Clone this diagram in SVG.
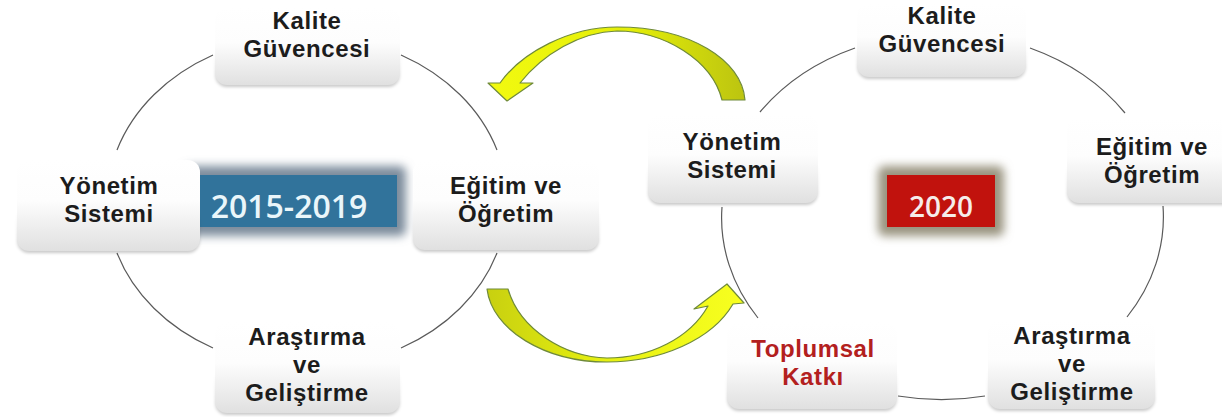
<svg xmlns="http://www.w3.org/2000/svg" width="1222" height="417" viewBox="0 0 1222 417">
<style>
.lbl{font-family:"Liberation Sans",Arial,sans-serif;font-weight:700;font-size:24px;letter-spacing:0.6px;fill:#1c1c1c;text-anchor:middle}
.red{fill:#b3201e}
.box{fill:url(#boxg)}
.shd{fill:url(#shg);filter:url(#sb)}
.arc{fill:none;stroke:#5a5a5a;stroke-width:1.2}
.yr{font-family:"Open Sans","Noto Sans","Liberation Sans",sans-serif;font-weight:600;text-anchor:middle}
.arrow{stroke:#6f8a3a;stroke-width:1.2;stroke-linejoin:round}
</style>
<defs>
<linearGradient id="boxg" x1="0" y1="0" x2="0" y2="1">
<stop offset="0" stop-color="#ffffff"/>
<stop offset="0.45" stop-color="#fdfdfd"/>
<stop offset="1" stop-color="#e0e0e0"/>
</linearGradient>
<linearGradient id="shg" x1="0" y1="0" x2="0" y2="1">
<stop offset="0" stop-color="#000" stop-opacity="0"/>
<stop offset="0.55" stop-color="#000" stop-opacity="0"/>
<stop offset="1" stop-color="#000" stop-opacity="0.22"/>
</linearGradient>
<filter id="sb" x="-10%" y="-10%" width="120%" height="130%">
<feGaussianBlur stdDeviation="1.6"/>
</filter>
<filter id="blur" x="-30%" y="-60%" width="160%" height="220%">
<feGaussianBlur stdDeviation="5"/>
</filter>
<linearGradient id="ytop" x1="0" y1="0" x2="1" y2="0">
<stop offset="0" stop-color="#f2fa10"/>
<stop offset="0.55" stop-color="#e4ee08"/>
<stop offset="1" stop-color="#bcc410"/>
</linearGradient>
<linearGradient id="ybot" x1="0" y1="0" x2="1" y2="0">
<stop offset="0" stop-color="#c8d010"/>
<stop offset="0.45" stop-color="#e6f010"/>
<stop offset="1" stop-color="#f8ff20"/>
</linearGradient>
</defs>
<rect width="1222" height="417" fill="#ffffff"/>

<g id="connectors">
<path class="arc" d="M213,55 A200,166 0 0 0 117,150"/>
<path class="arc" d="M117,253 A200,166 0 0 0 213,348"/>
<path class="arc" d="M401,348 A200,166 0 0 0 497,253"/>
<path class="arc" d="M497,150 A200,166 0 0 0 401,55"/>
<path class="arc" d="M1030,48 A221,182 0 0 1 1125,113"/>
<path class="arc" d="M1163,206 A221,182 0 0 1 1127,317"/>
<path class="arc" d="M985,396 A221,182 0 0 1 898,396"/>
<path class="arc" d="M758,318 A221,182 0 0 1 722,207"/>
<path class="arc" d="M760,112 A221,182 0 0 1 855,48"/>
<path class="arrow" fill="url(#ytop)" d="M722,100 L745,100 C742,60 690,27 617,27 C570,27 522,52 500,83 L488,83 L507,101 L533,83 L520,83 C543,54 580,32 617,31 C664,31 712,60 722,100 Z"/>
<path class="arrow" fill="url(#ybot)" d="M487,289 L508,289 C520,330 565,357 607,358 C650,358 690,338 708,306 L694,309 L727,284 L744,303 L733,304 C712,340 660,362 607,362 C545,362 492,330 487,289 Z"/>
</g>

<g id="n-center-left">
<rect x="184" y="166" width="222" height="70" rx="6" fill="#7d8c9c" filter="url(#blur)"/>
<rect x="193" y="175" width="204" height="52" fill="#31739b"/>
<text class="yr" x="289" y="218" font-size="32" fill="#eaf6fa">2015-2019</text>
</g>
<g id="n-center-right">
<rect x="878" y="166" width="126" height="70" rx="6" fill="#9a9480" filter="url(#blur)"/>
<rect x="887" y="175" width="108" height="52" fill="#c1120d"/>
<text class="yr" x="941" y="217" font-size="28" fill="#f6ecea">2020</text>
</g>

<g id="n-l-kalite">
<rect class="shd" x="215" y="10" width="185" height="77" rx="12"/>
<rect class="box" x="215" y="8" width="185" height="77" rx="12"/>
<text class="lbl" x="307" y="29">Kalite</text>
<text class="lbl" x="307" y="57">Güvencesi</text>
</g>
<g id="n-l-yonetim">
<rect class="shd" x="17" y="162" width="183" height="91" rx="12"/>
<rect class="box" x="17" y="160" width="183" height="91" rx="12"/>
<text class="lbl" x="109" y="194">Yönetim</text>
<text class="lbl" x="109" y="222">Sistemi</text>
</g>
<g id="n-l-egitim">
<rect class="shd" x="413" y="162" width="186" height="90" rx="12"/>
<rect class="box" x="413" y="160" width="186" height="90" rx="12"/>
<text class="lbl" x="506" y="194">Eğitim ve</text>
<text class="lbl" x="506" y="222">Öğretim</text>
</g>
<g id="n-l-arastirma">
<rect class="shd" x="215" y="324" width="185" height="91" rx="12"/>
<rect class="box" x="215" y="322" width="185" height="91" rx="12"/>
<text class="lbl" x="307" y="345">Araştırma</text>
<text class="lbl" x="307" y="373">ve</text>
<text class="lbl" x="307" y="401">Geliştirme</text>
</g>

<g id="n-r-kalite">
<rect class="shd" x="857" y="6" width="169" height="73" rx="12"/>
<rect class="box" x="857" y="4" width="169" height="73" rx="12"/>
<text class="lbl" x="942" y="24">Kalite</text>
<text class="lbl" x="942" y="52">Güvencesi</text>
</g>
<g id="n-r-yonetim">
<rect class="shd" x="648" y="117" width="170" height="88" rx="12"/>
<rect class="box" x="648" y="115" width="170" height="88" rx="12"/>
<text class="lbl" x="732" y="150">Yönetim</text>
<text class="lbl" x="732" y="178">Sistemi</text>
</g>
<g id="n-r-egitim">
<rect class="shd" x="1067" y="120" width="170" height="85" rx="12"/>
<rect class="box" x="1067" y="118" width="170" height="85" rx="12"/>
<text class="lbl" x="1152" y="155">Eğitim ve</text>
<text class="lbl" x="1152" y="183">Öğretim</text>
</g>
<g id="n-r-toplumsal">
<rect class="shd" x="727" y="324" width="170" height="87" rx="12"/>
<rect class="box" x="727" y="322" width="170" height="87" rx="12"/>
<text class="lbl red" x="813" y="357">Toplumsal</text>
<text class="lbl red" x="813" y="385">Katkı</text>
</g>
<g id="n-r-arastirma">
<rect class="shd" x="988" y="322" width="167" height="89" rx="12"/>
<rect class="box" x="988" y="320" width="167" height="89" rx="12"/>
<text class="lbl" x="1072" y="344">Araştırma</text>
<text class="lbl" x="1072" y="372">ve</text>
<text class="lbl" x="1072" y="400">Geliştirme</text>
</g>
</svg>
